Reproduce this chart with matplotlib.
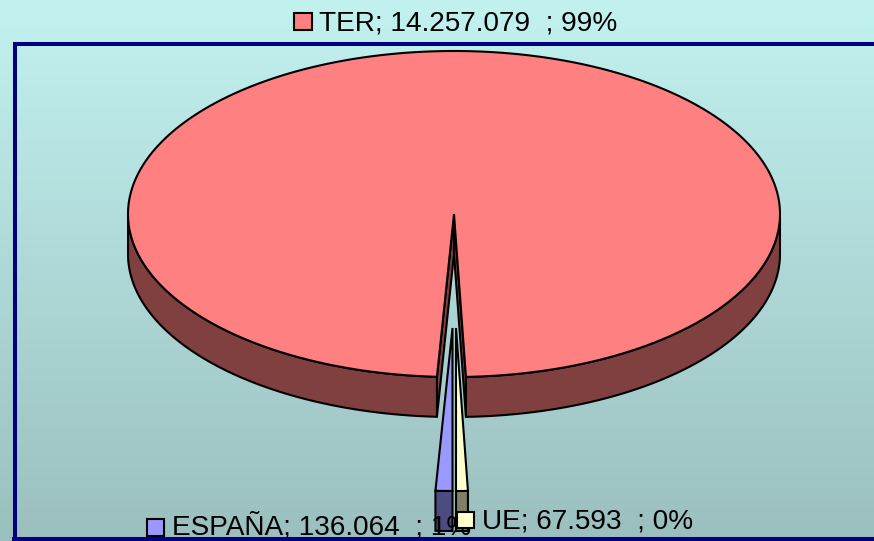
import matplotlib
matplotlib.use("Agg")
import matplotlib.pyplot as plt
import numpy as np

plt.rcParams['font.family'] = ['Liberation Sans', 'DejaVu Sans']

labels = ["TER; 14.257.079  ; 99%", "ESPAÑA; 136.064  ; 1%", "UE; 67.593  ; 0%"]
values = [14257079, 136064, 67593]
# sweep of the thin slices as drawn in the picture, degrees
sweep_spain = 3.0
sweep_ue = 2.1
top_colors = ['#FF8080', '#9999FF', '#FFFFCC']
side_colors = ['#804040', '#4C4C80', '#808066']

W, H = 874, 541
cx, cy, rx, ry = 454, 214, 326, 163
depth = 40
explode = 114
edge = 1.5

fig = plt.figure(figsize=(W / 100, H / 100), dpi=100)
ax = fig.add_axes([0, 0, 1, 1])
ax.set_xlim(0, W)
ax.set_ylim(H, 0)
ax.axis('off')

grad = np.linspace(0, 1, 256).reshape(-1, 1, 1)
top_bg = np.array([0xC2, 0xF2, 0xF0]) / 255
bot_bg = np.array([0x9B, 0xBF, 0xBF]) / 255
ax.imshow(top_bg + grad * (bot_bg - top_bg), extent=[0, W, H, 0], aspect='auto', zorder=0)
# frame, over the ESPAÑA label
ax.plot([14.5, 14.5, W + 5], [H + 5, 44, 44], color='#000080', lw=2.9, zorder=7.5, solid_joinstyle='miter')
ax.plot([14, W + 5], [539, 539], color='#000080', lw=2.9, zorder=7.5)


def rim(a, x0, y0):
    # a in degrees from straight down, positive goes to the left
    t = np.radians(a)
    return x0 - rx * np.sin(t), y0 + ry * np.cos(t)


def wedge(a0, a1, dx, dy, top, side, z):
    arc = np.linspace(a0, a1, 400)
    x, y = rim(arc, cx + dx, cy + dy)
    # outer wall, only the part of the rim that faces the viewer
    for part in (np.where(arc % 360 <= 90)[0], np.where(arc % 360 >= 270)[0]):
        if len(part) > 1:
            xs = np.r_[x[part], x[part][::-1]]
            ys = np.r_[y[part], y[part][::-1] + depth]
            ax.fill(xs, ys, fc=side, ec='black', lw=edge, zorder=z)
    ax.fill(np.r_[cx + dx, x], np.r_[cy + dy, y], fc=top, ec='black', lw=edge, zorder=z + 0.5)


# inner walls of the notch in the big slice
for a in (sweep_spain, -sweep_ue):
    x, y = rim(a, cx, cy)
    ax.fill([cx, x, x, cx], [cy, y, y + depth, cy + depth], fc=side_colors[0], ec='black', lw=edge, zorder=2)

wedge(sweep_spain, 360 - sweep_ue, 0, 0, top_colors[0], side_colors[0], 3)
wedge(0, sweep_spain, -1.5, explode, top_colors[1], side_colors[1], 5)
wedge(-sweep_ue, 0, 2, explode, top_colors[2], side_colors[2], 5)

# legend keys and labels
key = dict(ec='black', lw=edge, zorder=8)
ax.fill([294, 312, 312, 294], [13, 13, 30, 30], fc=top_colors[0], **key)
ax.text(319, 30, labels[0], fontsize=20.2, va='baseline', ha='left', color='black', zorder=9)
ax.fill([147, 164, 164, 147], [519, 519, 536, 536], fc=top_colors[1], **key)
ax.text(172, 535, labels[1], fontsize=20.2, va='baseline', ha='left', color='black', zorder=7)
ax.fill([457, 474, 474, 457], [512, 512, 528, 528], fc=top_colors[2], **key)
ax.text(482, 528, labels[2], fontsize=20.2, va='baseline', ha='left', color='black', zorder=9)

fig.savefig('out.png', dpi=100)
